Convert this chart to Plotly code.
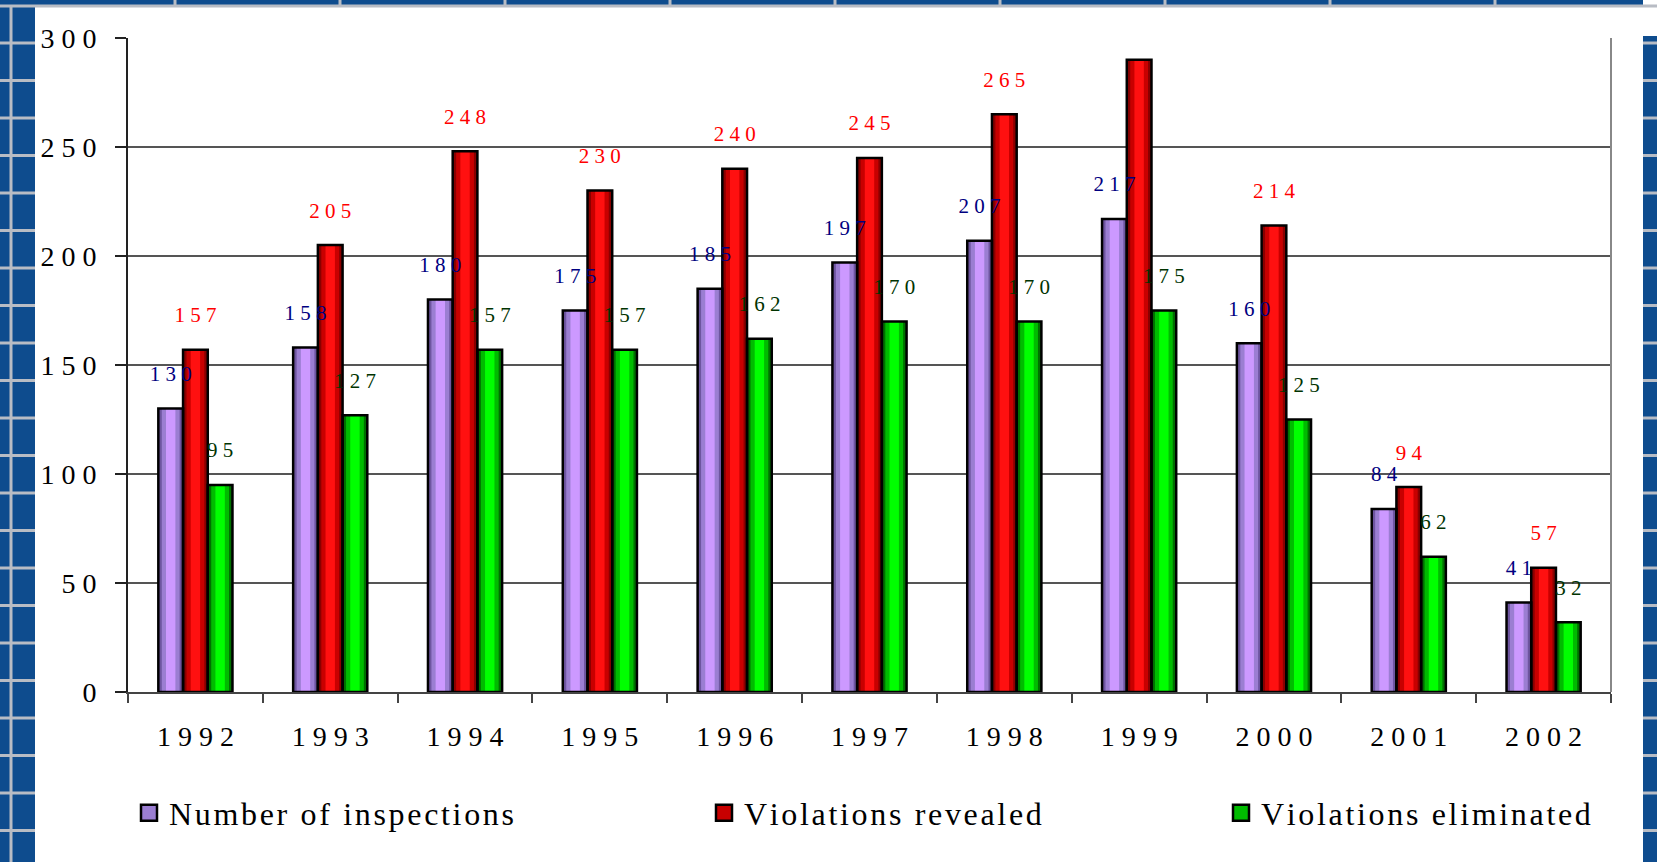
import plotly.graph_objects as go

years = ['1992', '1993', '1994', '1995', '1996', '1997', '1998', '1999', '2000', '2001', '2002']
inspections = [130, 158, 180, 175, 185, 197, 207, 217, 160, 84, 41]
revealed = [157, 205, 248, 230, 240, 245, 265, 290, 214, 94, 57]
eliminated = [95, 127, 157, 157, 162, 170, 170, 175, 125, 62, 32]
series_names = ['Number of inspections', 'Violations revealed', 'Violations eliminated']
y_ticks = [0, 50, 100, 150, 200, 250, 300]

def spaced(s):
    return ' '.join(str(s))

def tracked(s):
    # emulate the wide letter spacing of the original slide with hair spaces
    return '\u200a'.join(s)

SERIF = 'Liberation Serif'
# cylinder-like shading: (dark edge, mid band, light centre)
shades = [('#6E55A0', '#9B7ED2', '#CC99FF'),
          ('#8A0000', '#C80000', '#FF1010'),
          ('#007000', '#00BB00', '#00FF00')]
label_colors = ['#000080', '#FF0000', '#003300']
all_values = [inspections, revealed, eliminated]
groups = ['a', 'b', 'c']

BARGAP = 0.45
w = (1 - BARGAP) / 3
# (fraction of bar width or None for full slot, shade index)
layers = [(None, 0), (0.72, 1), (0.38, 2)]

fig = go.Figure()
for frac, si in layers:
    for name, vals, sh, g in zip(series_names, all_values, shades, groups):
        fig.add_trace(go.Bar(x=years, y=vals, name=name, offsetgroup=g,
                             width=None if frac is None else w * frac,
                             marker=dict(color=sh[si], line=dict(width=0)),
                             showlegend=False, hoverinfo='skip'))
for name, vals, g in zip(series_names, all_values, groups):
    fig.add_trace(go.Bar(x=years, y=vals, name=name, offsetgroup=g,
                         marker=dict(color='rgba(0,0,0,0)', line=dict(color='black', width=2.5)),
                         showlegend=False, hoverinfo='skip'))
for name, vals, lcol, g in zip(series_names, all_values, label_colors, groups):
    fig.add_trace(go.Scatter(x=years, y=vals, mode='markers+text', text=[spaced(v) for v in vals],
                             textposition='top center', textfont=dict(family=SERIF, size=21, color=lcol),
                             marker=dict(size=34, color='rgba(0,0,0,0)'), offsetgroup=g,
                             showlegend=False, hoverinfo='skip', cliponaxis=True))

legend_ids = ['legend', 'legend2', 'legend3']
for name, sh, lid in zip(series_names, shades, legend_ids):
    fig.add_trace(go.Scatter(x=[None], y=[None], mode='markers', name=tracked(name), legend=lid,
                             marker=dict(symbol='square', size=16, color=sh[1], line=dict(color='black', width=2.5))))

W, H = 1657, 862
L, R, T, B = 128, 46, 38, 170
pw, ph = W - L - R, H - T - B

def px(x):
    return (x - L) / pw

def py(y):
    return (H - B - y) / ph

shapes = []
# white slide area
shapes.append(dict(type='rect', xref='paper', yref='paper', x0=px(35), x1=px(1643), y0=py(7), y1=py(H + 5),
                   fillcolor='white', line=dict(width=0), layer='below'))
shapes.append(dict(type='rect', xref='paper', yref='paper', x0=px(1643), x1=px(W + 5), y0=py(-5), y1=py(36),
                   fillcolor='white', line=dict(width=0), layer='below'))
# decorative grey tile lines of the slide background
gl = dict(color='#b8bcc4', width=3)
shapes.append(dict(type='line', xref='paper', yref='paper', x0=px(11), x1=px(11), y0=py(7), y1=py(H + 5), line=gl, layer='below'))
shapes.append(dict(type='line', xref='paper', yref='paper', x0=px(0), x1=px(W), y0=py(6), y1=py(6), line=gl, layer='below'))
yy = 43
while yy < H:
    shapes.append(dict(type='line', xref='paper', yref='paper', x0=px(0), x1=px(35), y0=py(yy), y1=py(yy), line=gl, layer='below'))
    shapes.append(dict(type='line', xref='paper', yref='paper', x0=px(1643), x1=px(W + 5), y0=py(yy), y1=py(yy), line=gl, layer='below'))
    yy += 37.5
xx = 175
while xx < W:
    shapes.append(dict(type='line', xref='paper', yref='paper', x0=px(xx), x1=px(xx), y0=py(0), y1=py(6), line=gl, layer='below'))
    xx += 165

legend_x = [129, 704, 1221]
leg_common = dict(orientation='h', yanchor='middle', y=py(813), xanchor='left', bgcolor='rgba(0,0,0,0)',
                  font=dict(family=SERIF, size=32, color='black'), itemclick=False, itemdoubleclick=False)
fig.update_layout(
    width=W, height=H,
    margin=dict(l=L, r=R, t=T, b=B, autoexpand=False),
    paper_bgcolor='#0E4C8E', plot_bgcolor='white',
    barmode='group', bargap=BARGAP, bargroupgap=0,
    scattermode='group', scattergap=BARGAP,
    shapes=shapes,
    legend=dict(x=px(legend_x[0]), **leg_common),
    legend2=dict(x=px(legend_x[1]), **leg_common),
    legend3=dict(x=px(legend_x[2]), **leg_common),
    xaxis=dict(type='category', tickvals=years, ticktext=[spaced(y) for y in years], tickson='boundaries',
               ticks='outside', ticklen=9, tickcolor='#444', tickwidth=1.5,
               showline=True, linecolor='#444', linewidth=1.5, mirror=False, showgrid=False,
               tickfont=dict(family=SERIF, size=28, color='black'), ticklabelstandoff=19, fixedrange=True),
    yaxis=dict(range=[0, 300], tickvals=y_ticks, ticktext=[spaced(v) for v in y_ticks],
               ticks='outside', ticklen=11, tickcolor='#222', tickwidth=1.5,
               showline=True, linecolor='#222', linewidth=2, showgrid=True, gridcolor='#555', gridwidth=1.5,
               zeroline=False, tickfont=dict(family=SERIF, size=28, color='black'), ticklabelstandoff=13,
               fixedrange=True),
)
# right border of the plot frame
fig.add_shape(type='line', xref='paper', yref='paper', x0=1, x1=1, y0=0, y1=1, line=dict(color='#888', width=2))

fig.write_html('out.html', config={'displayModeBar': False},
               post_script="document.body.style.margin='0px';document.body.style.overflow='hidden';")
